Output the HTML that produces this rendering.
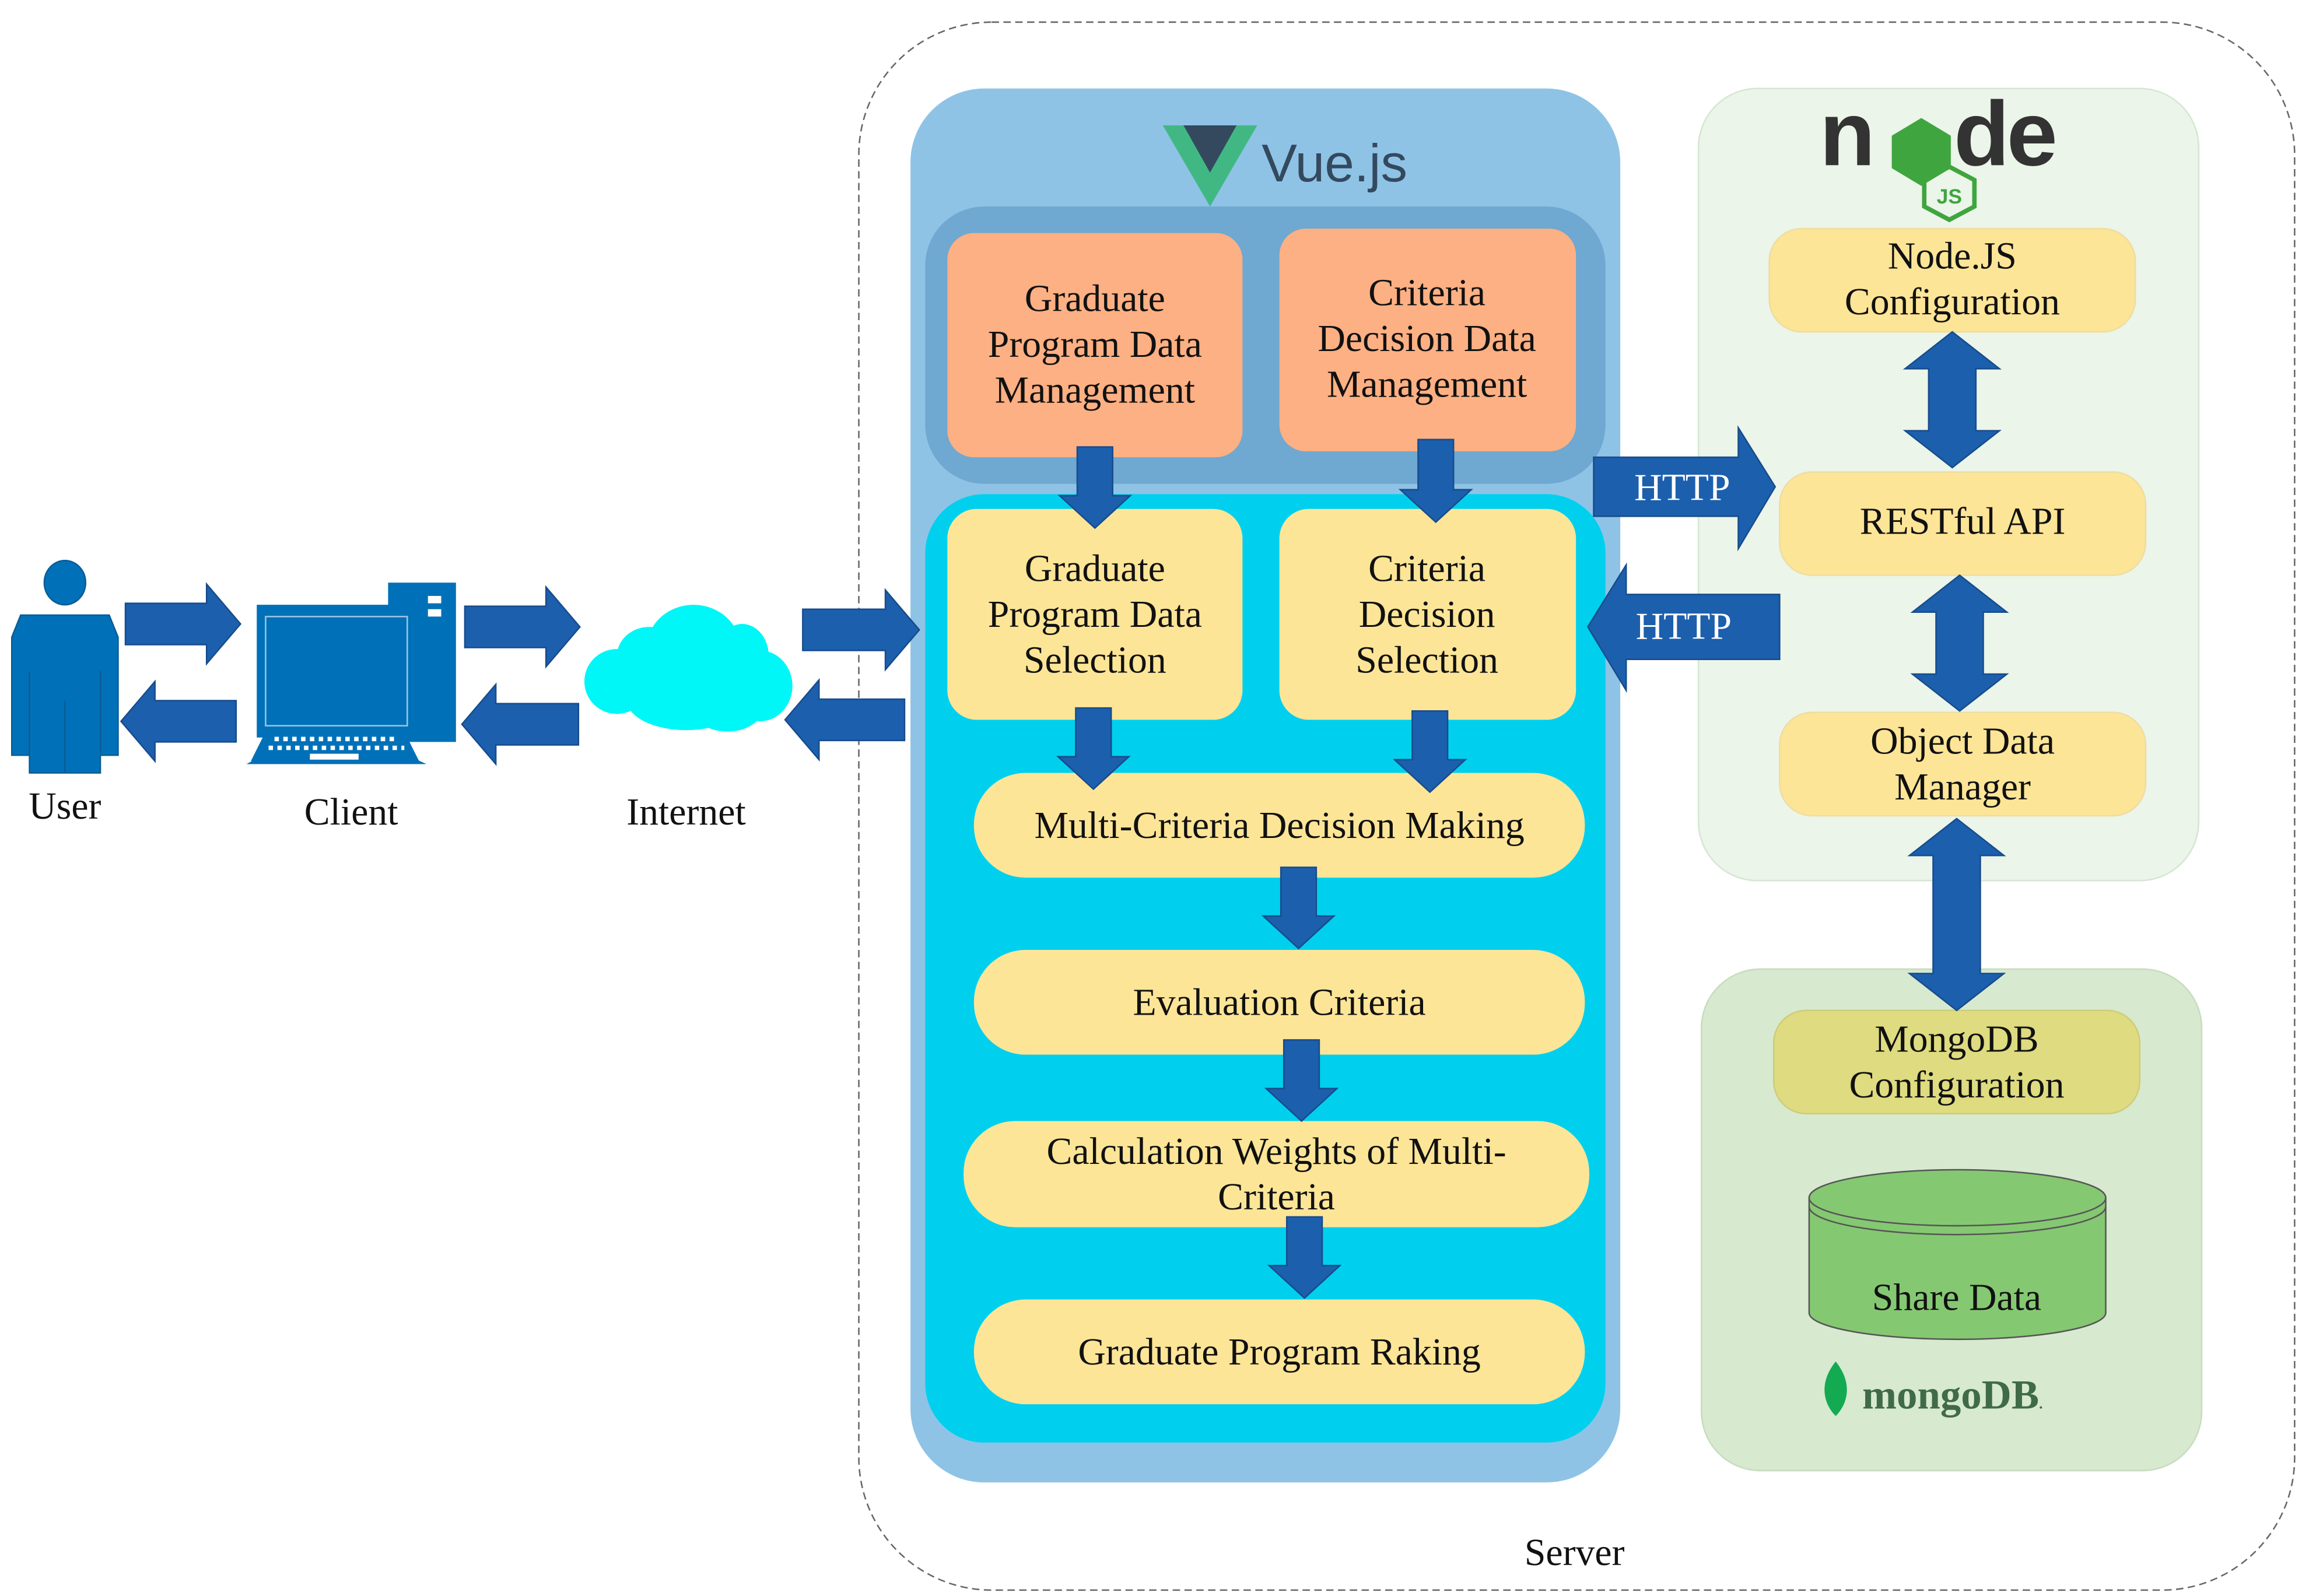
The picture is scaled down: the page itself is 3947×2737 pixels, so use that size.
<!DOCTYPE html>
<html><head><meta charset="utf-8"><style>html,body{margin:0;padding:0;background:#fff}svg{display:block}</style></head>
<body>
<svg width="3947" height="2737" viewBox="0 0 1560 1082" preserveAspectRatio="none" xmlns="http://www.w3.org/2000/svg" font-family="'Liberation Serif', serif">
<rect x="0" y="0" width="1560" height="1082" fill="#fff"/>
<rect x="582" y="15" width="973" height="1063" rx="90" fill="none" stroke="#666" stroke-width="1" stroke-dasharray="5,3"/>
<rect x="617" y="60" width="481" height="945" rx="50" fill="#8ec3e6"/>
<rect x="627" y="140" width="461" height="188" rx="40" fill="#6fa8d0"/>
<rect x="627" y="335" width="461" height="643" rx="40" fill="#00d0ee"/>
<rect x="642" y="158" width="200" height="152" rx="18" fill="#fdb083"/>
<rect x="867" y="155" width="201" height="151" rx="18" fill="#fdb083"/>
<rect x="642" y="345" width="200" height="143" rx="20" fill="#fde597"/>
<rect x="867" y="345" width="201" height="143" rx="20" fill="#fde597"/>
<rect x="660" y="524" width="414" height="71" rx="35" fill="#fde597"/>
<rect x="660" y="644" width="414" height="71" rx="35" fill="#fde597"/>
<rect x="653" y="760" width="424" height="72" rx="35" fill="#fde597"/>
<rect x="660" y="881" width="414" height="71" rx="35" fill="#fde597"/>
<polygon points="788,85 852,85 820,140" fill="#41b883"/>
<polygon points="802,85 838,85 820,117" fill="#34495e"/>
<text x="855" y="123" font-family="'Liberation Sans', sans-serif" font-size="36" fill="#34495e">Vue.js</text>
<g font-size="26" fill="#111" text-anchor="middle">
<text x="742" y="211">Graduate</text><text x="742" y="242">Program Data</text><text x="742" y="273">Management</text>
<text x="967" y="207">Criteria</text><text x="967" y="238">Decision Data</text><text x="967" y="269">Management</text>
<text x="742" y="394">Graduate</text><text x="742" y="425">Program Data</text><text x="742" y="456">Selection</text>
<text x="967" y="394">Criteria</text><text x="967" y="425">Decision</text><text x="967" y="456">Selection</text>
<text x="867" y="568">Multi-Criteria Decision Making</text>
<text x="867" y="688">Evaluation Criteria</text>
<text x="865" y="789">Calculation Weights of Multi-</text><text x="865" y="820">Criteria</text>
<text x="867" y="925">Graduate Program Raking</text>
</g>
<rect x="1151" y="60" width="339" height="537" rx="40" fill="#ebf5e9" stroke="#d6e6d3"/>
<rect x="1153" y="657" width="339" height="340" rx="40" fill="#d7e9cf" stroke="#c8dcc0"/>
<rect x="1199" y="155" width="248" height="70" rx="22" fill="#fde597" stroke="#efdca0"/>
<rect x="1206" y="320" width="248" height="70" rx="22" fill="#fde597" stroke="#efdca0"/>
<rect x="1206" y="483" width="248" height="70" rx="22" fill="#fde597" stroke="#efdca0"/>
<rect x="1202" y="685" width="248" height="70" rx="22" fill="#dedb80" stroke="#cfcc78"/>
<text x="1233" y="112" font-family="'Liberation Sans', sans-serif" font-weight="bold" font-size="62" fill="#333" letter-spacing="-2">n</text>
<polygon points="1302,80 1322,92 1322,114 1302,126 1282,114 1282,92" fill="#3fa53f"/>
<text x="1324" y="112" font-family="'Liberation Sans', sans-serif" font-weight="bold" font-size="62" fill="#333" letter-spacing="-2">de</text>
<polygon points="1321,113 1338,122 1338,140 1321,149 1304,140 1304,122" fill="none" stroke="#3fa53f" stroke-width="3"/>
<text x="1321" y="138" font-family="'Liberation Sans', sans-serif" font-weight="bold" font-size="14" fill="#3fa53f" text-anchor="middle">JS</text>
<g font-size="26" fill="#111" text-anchor="middle">
<text x="1323" y="182">Node.JS</text><text x="1323" y="213">Configuration</text>
<text x="1330" y="362">RESTful API</text>
<text x="1330" y="511">Object Data</text><text x="1330" y="542">Manager</text>
<text x="1326" y="713">MongoDB</text><text x="1326" y="744">Configuration</text>
</g>
<path d="M1226,812 L1226,890 A100.5,18 0 0 0 1427,890 L1427,812 Z" fill="#85c872" stroke="#555" stroke-width="1"/>
<ellipse cx="1326.5" cy="812" rx="100.5" ry="19" fill="#85c872" stroke="#555"/>
<path d="M1226,818 A100.5,19 0 0 0 1427,818" fill="none" stroke="#555"/>
<text x="1326" y="888" font-size="26" text-anchor="middle" fill="#111">Share Data</text>
<path d="M1244,923 C1232,938 1236,952 1244,960 C1252,952 1256,938 1244,923 Z" fill="#13aa52"/>
<text x="1262" y="955" font-size="28" fill="#3f6b46" font-weight="bold">mongoDB<tspan font-size="10">.</tspan></text>
<g fill="#1c5fad" stroke="#174c8c" stroke-width="1">
<polygon points="730,303 754,303 754,336 766,336 742,358 718,336 730,336"/>
<polygon points="961,298 985,298 985,332 997,332 973,354 949,332 961,332"/>
<polygon points="729,480 753,480 753,513 765,513 741,535 717,513 729,513"/>
<polygon points="957,482 981,482 981,515 993,515 969,537 945,515 957,515"/>
<polygon points="868,588 892,588 892,621 904,621 880,643 856,621 868,621"/>
<polygon points="870,705 894,705 894,738 906,738 882,760 858,738 870,738"/>
<polygon points="872,825 896,825 896,858 908,858 884,880 860,858 872,858"/>
<polygon points="1323,225 1355,250 1339,250 1339,292 1355,292 1323,317 1291,292 1307,292 1307,250 1291,250"/>
<polygon points="1328,390 1360,415 1344,415 1344,457 1360,457 1328,482 1296,457 1312,457 1312,415 1296,415"/>
<polygon points="1326,555 1358,580 1342,580 1342,660 1358,660 1326,685 1294,660 1310,660 1310,580 1294,580"/>
<polygon points="85,409 140,409 140,396 163,423 140,450 140,437 85,437"/>
<polygon points="160,475 105,475 105,462 82,489 105,516 105,503 160,503"/>
<polygon points="315,411 370,411 370,398 393,425 370,452 370,439 315,439"/>
<polygon points="392,477 336,477 336,464 313,491 336,518 336,505 392,505"/>
<polygon points="544,413 600,413 600,400 623,427 600,454 600,441 544,441"/>
<polygon points="613,474 555,474 555,461 532,488 555,515 555,502 613,502"/>
<polygon points="1080,310 1178,310 1178,290 1203,330 1178,372 1178,350 1080,350"/>
<polygon points="1206,403 1102,403 1102,383 1076,425 1102,468 1102,447 1206,447"/>
</g>
<g font-size="26" fill="#fff" text-anchor="middle"><text x="1140" y="339">HTTP</text><text x="1141" y="433">HTTP</text></g>
<g fill="#0071b8" stroke="#0a5c95" stroke-width="1">
<ellipse cx="44" cy="395" rx="14" ry="15"/>
<path d="M14,417 L74,417 L80,432 L80,512 L68,512 L68,524 L20,524 L20,512 L8,512 L8,432 Z"/>
</g>
<g stroke="#0a5c95" stroke-width="1"><line x1="20" y1="455" x2="20" y2="512"/><line x1="68" y1="455" x2="68" y2="512"/><line x1="44" y1="475" x2="44" y2="524"/></g>
<g fill="#0071b8">
<rect x="263" y="395" width="46" height="108"/>
<rect x="174" y="410" width="108" height="90"/>
<rect x="217" y="500" width="16" height="12"/>
<polygon points="178,512 276,512 289,518 167,518"/>
</g>
<rect x="180" y="418" width="96" height="74" fill="none" stroke="#9cc4e4" stroke-width="1"/>
<rect x="290" y="404" width="9" height="5" fill="#fff"/><rect x="290" y="413" width="9" height="5" fill="#fff"/>
<polygon points="180,496 274,496 284,516 170,516" fill="#0071b8"/>
<g stroke="#fff" stroke-width="3" stroke-dasharray="3,3"><line x1="186" y1="501" x2="270" y2="501"/><line x1="182" y1="507" x2="274" y2="507"/></g>
<rect x="210" y="511" width="33" height="4" fill="#fff"/>
<g fill="#00f7f7">
<ellipse cx="470" cy="440" rx="32" ry="30"/><ellipse cx="503" cy="445" rx="18" ry="22"/>
<ellipse cx="515" cy="465" rx="22" ry="24"/><ellipse cx="440" cy="445" rx="22" ry="20"/>
<ellipse cx="418" cy="462" rx="22" ry="22"/><ellipse cx="465" cy="475" rx="40" ry="20"/><ellipse cx="493" cy="478" rx="25" ry="18"/>
</g>
<g font-size="26" fill="#111" text-anchor="middle">
<text x="44" y="555">User</text><text x="238" y="559">Client</text><text x="465" y="559">Internet</text><text x="1067" y="1061">Server</text>
</g>
</svg>
</body></html>
